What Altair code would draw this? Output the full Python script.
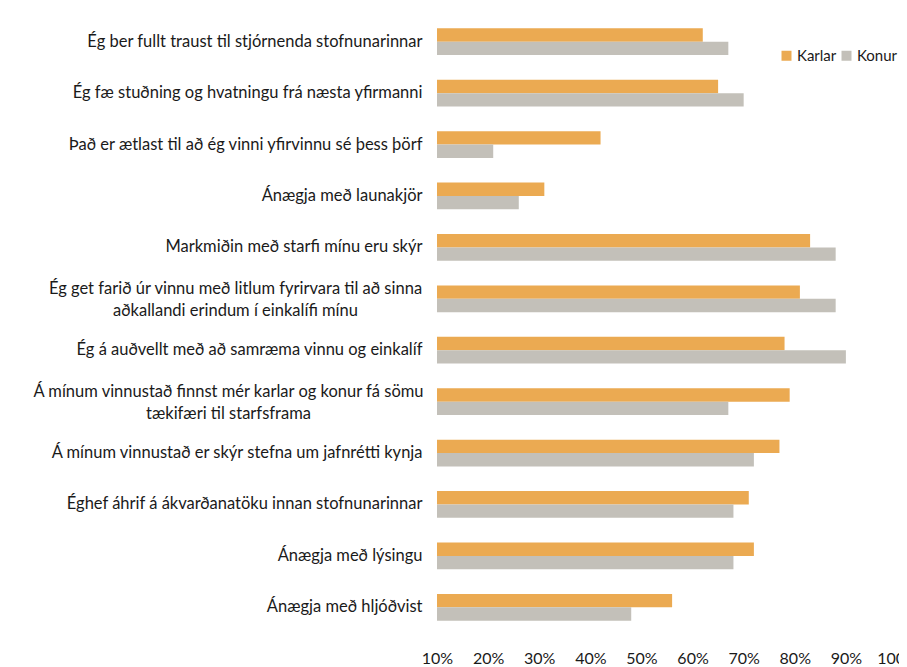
import altair as alt
import pandas as pd

categories = [
    "Ég ber fullt traust til stjórnenda stofnunarinnar",
    "Ég fæ stuðning og hvatningu frá næsta yfirmanni",
    "Það er ætlast til að ég vinni yfirvinnu sé þess þörf",
    "Ánægja með launakjör",
    "Markmiðin með starfi mínu eru skýr",
    "Ég get farið úr  vinnu með litlum fyrirvara til að sinna\naðkallandi erindum í einkalífi mínu",
    "Ég á auðvellt með að samræma vinnu og einkalíf",
    "Á mínum vinnustað finnst mér karlar og konur fá sömu\ntækifæri til starfsframa",
    "Á mínum vinnustað er skýr stefna um jafnrétti kynja",
    "Éghef áhrif á ákvarðanatöku innan stofnunarinnar",
    "Ánægja með lýsingu",
    "Ánægja með hljóðvist",
]
karlar = [62, 65, 42, 31, 83, 81, 78, 79, 77, 71, 72, 56]
konur = [67, 70, 21, 26, 88, 88, 90, 67, 72, 68, 68, 48]
series = ["Karlar", "Konur"]
colors = ["#EBAA52", "#C3C0B9"]
ticks = [0.1, 0.2, 0.3, 0.4, 0.5, 0.6, 0.7, 0.8, 0.9, 1.0]

rows = []
for c, k, w in zip(categories, karlar, konur):
    rows.append({"cat": c, "kyn": "Karlar", "val": k / 100})
    rows.append({"cat": c, "kyn": "Konur", "val": w / 100})
df = pd.DataFrame(rows)

FONT = "Lato"
multi = "indexof(datum.value, '\\n') >= 0"
first_ml = "indexof(datum.value, 'Ég get') == 0"
second_ml = "indexof(datum.value, 'Á mínum vinnustað finnst') == 0"

y_axis = alt.Axis(
    labelExpr="split(datum.label, '\\n')", ticks=False, domain=False,
    labelFontSize=16.5, labelFont=FONT, labelColor="#1a1a1a",
    labelLimit=600, labelLineHeight=22,
    labelAlign={"condition": {"test": multi, "value": "center"}, "value": "right"},
    labelPadding={"condition": [{"test": first_ml, "value": 202},
                                {"test": second_ml, "value": 209}], "value": 15},
    labelOffset={"condition": {"test": multi, "value": -10}, "value": 0},
)

chart = alt.Chart(df).mark_bar(clip=True).encode(
    y=alt.Y("cat:N", sort=categories, title=None,
            scale=alt.Scale(paddingInner=0.48, paddingOuter=0.24),
            axis=y_axis),
    yOffset=alt.YOffset("kyn:N", sort=series),
    x=alt.X("val:Q", title=None,
            scale=alt.Scale(domain=[0.1, 1.0], zero=False, nice=False),
            axis=alt.Axis(values=ticks, format=".0%", grid=False, ticks=False, domain=False,
                          labelFontSize=16, labelFont=FONT, labelColor="#1a1a1a",
                          labelPadding=17, labelFlush=False)),
    color=alt.Color("kyn:N", scale=alt.Scale(domain=series, range=colors),
                    legend=alt.Legend(title=None, orient="none", direction="horizontal",
                                      legendX=342, legendY=32, symbolType="square",
                                      symbolSize=100, symbolStrokeWidth=0, labelFontSize=15,
                                      labelFont=FONT, labelColor="#1a1a1a",
                                      columnPadding=2, labelOffset=3)),
).properties(
    width=460, height=617,
    autosize=alt.AutoSizeParams(type="none"),
    padding={"left": 429, "top": 8, "right": 2, "bottom": 34},
).configure_view(stroke=None)

chart.save("out.html", embed_options={"renderer": "svg", "actions": False})
